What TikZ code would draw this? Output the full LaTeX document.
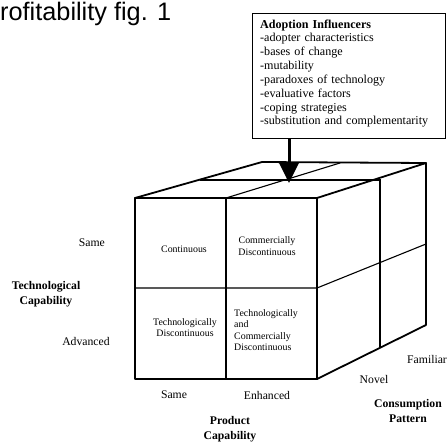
\documentclass[tikz,border=0pt]{standalone}
\usepackage{fontspec}
\setmainfont{Liberation Serif}
\newfontfamily\titlefont{Liberation Sans}
\usetikzlibrary{arrows.meta}
\begin{document}
\begin{tikzpicture}[x=1pt,y=-1pt,
  outer/.style={line width=1.8pt,line join=round,line cap=round},
  inner/.style={line width=1.1pt,line cap=round},
  cell/.style={inner sep=0pt,font=\fontsize{9.9}{11.3}\selectfont},
  axislbl/.style={inner sep=0pt,font=\fontsize{11.7}{14}\selectfont},
  axisttl/.style={inner sep=0pt,align=center,font=\fontsize{11.7}{15}\selectfont\bfseries}]
\useasboundingbox (0,0) rectangle (448,442);

% heading
\node[anchor=base west,inner sep=0pt,font=\titlefont\fontsize{25.3}{30}\selectfont] (title) at (0,20) {rofitability fig. 1};

% influencer box
\node[draw,line width=1.3pt,anchor=north west,minimum width=193pt,minimum height=125pt,inner sep=0pt] (box) at (252,13) {};
\node[anchor=base west,inner sep=0pt,text width=180pt,align=left,font=\fontsize{12.1}{13.85}\selectfont] (boxtext) at (260,28)
  {\textbf{Adoption Influencers}\\-adopter characteristics\\-bases of change\\-mutability\\-paradoxes of technology\\-evaluative factors\\-coping strategies\\-substitution and complementarity};

% cube corners
\coordinate (ftl) at (135,198); \coordinate (ftm) at (226,198); \coordinate (ftr) at (317,198);
\coordinate (fml) at (135,288); \coordinate (fmr) at (317,288);
\coordinate (fbl) at (135,379); \coordinate (fbm) at (226,379); \coordinate (fbr) at (317,379);
\coordinate (btl) at (262,162); \coordinate (btm) at (340,163); \coordinate (btr) at (426,163);
\coordinate (bmr) at (426,244); \coordinate (bbr) at (426,325);
\coordinate (mtl) at (200,180); \coordinate (mtr) at (380,180); \coordinate (mbr) at (380,347);

% inner grid lines
\draw[inner] (ftm) -- (fbm);
\draw[inner] (fml) -- (fmr) -- (bmr);
\draw[inner] (mtl) -- (mtr) -- (mbr);
\draw[inner] (ftm) -- (btm);

% outer edges
\draw[outer] (ftl) rectangle (fbr);
\draw[outer] (ftl) -- (btl) -- (btr) -- (ftr);
\draw[outer] (btr) -- (bbr) -- (fbr);

% arrow from the box into the cube
\coordinate (tip) at (289,183);
\draw[line width=3pt,-{Triangle[width=19pt,length=20pt]}] (box.south -| tip) -- (tip);

% cell texts
\node[cell] (c1) at (184,249.5) {Continuous};
\node[cell,align=center] (c2) at (267,246) {Commercially\\Discontinuous};
\node[cell,align=center] (c3) at (185,327.5) {Technologically\\Discontinuous};
\node[cell,align=left,anchor=west] (c4) at (234,330) {Technologically\\and\\Commercially\\Discontinuous};

% axis values
\node[axislbl,anchor=east] (same1) at (105,243) {Same};
\node[axislbl] (adv) at (86,341) {Advanced};
\node[axislbl] (same2) at (174,395) {Same};
\node[axislbl] (enh) at (267,395) {Enhanced};
\node[axislbl] (novel) at (374,379) {Novel};
\node[axislbl,anchor=west] (fam) at (407,359) {Familiar};

% axis titles
\node[axisttl] (tech) at (46,294.5) {Technological\\Capability};
\node[axisttl] (prod) at (230,429) {Product\\Capability};
\node[axisttl] (cons) at (408,410.5) {Consumption\\Pattern};
\end{tikzpicture}
\end{document}
